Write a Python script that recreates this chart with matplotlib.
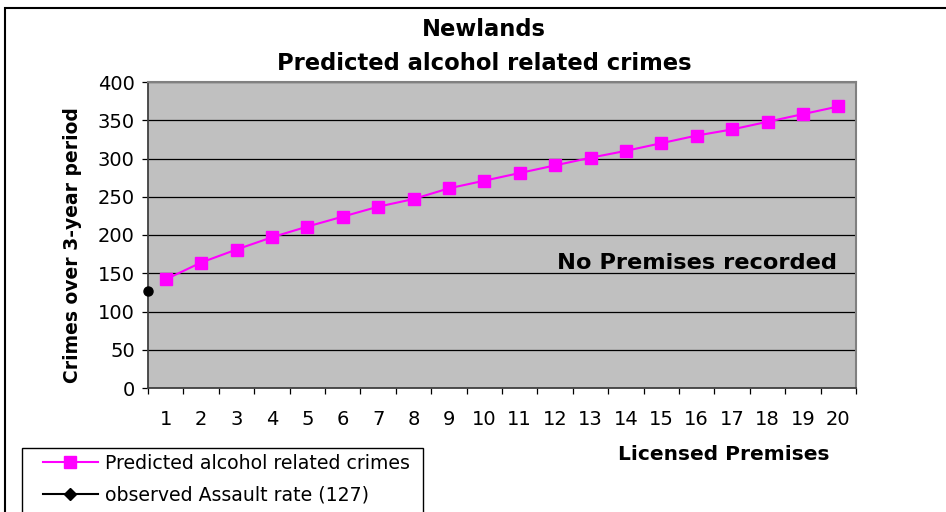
import matplotlib
matplotlib.use("Agg")
import matplotlib.pyplot as plt
from matplotlib.lines import Line2D
from matplotlib.patches import Rectangle
from matplotlib.ticker import FixedLocator, NullFormatter

plt.rcParams['font.family'] = ['DejaVu Sans']

premises = list(range(1, 21))
predicted = [142, 164, 181, 197, 211, 224, 237, 247, 261, 271,
             281, 291, 301, 310, 320, 330, 338, 348, 358, 368]
observed_label = "observed Assault rate (127)"
observed_value = 127
predicted_label = "Predicted alcohol related crimes"
title_lines = ["Newlands", "Predicted alcohol related crimes"]
xlabel = "Licensed Premises"
ylabel = "Crimes over 3-year period"
note = "No Premises recorded"
yticks = [0, 50, 100, 150, 200, 250, 300, 350, 400]

W, H = 946, 512
fig = plt.figure(figsize=(W / 100, H / 100), dpi=100)
fig.patch.set_facecolor('white')

def fx(px):
    return px / W

def fy(py):
    return 1 - py / H

ax = fig.add_axes([fx(148), fy(388), fx(856) - fx(148), fy(82) - fy(388)])
ax.set_facecolor('#c0c0c0')

ax.plot(premises, predicted, color='#ff00ff', lw=1.5, marker='s', ms=8.5,
        mec='#ff00ff', mfc='#ff00ff', zorder=3)
ax.plot([0.5], [observed_value], color='black', marker='o', ms=6.5, lw=0,
        clip_on=False, zorder=4)

ax.set_xlim(0.5, 20.5)
ax.set_ylim(0, 400)
ax.set_yticks(yticks)
ax.yaxis.grid(True, color='black', lw=0.9)
ax.set_axisbelow(True)

# x ticks: marks at category boundaries, labels at centres
ax.xaxis.set_major_locator(FixedLocator([i + 0.5 for i in range(0, 21)]))
ax.xaxis.set_major_formatter(NullFormatter())
ax.xaxis.set_minor_locator(FixedLocator(premises))
ax.set_xticklabels([str(p) for p in premises], minor=True)
ax.tick_params(axis='x', which='major', direction='out', length=4.5, width=0.9, color='black')
ax.tick_params(axis='x', which='minor', length=0, pad=16, labelsize=14)
ax.tick_params(axis='y', direction='out', length=4.5, width=0.9, pad=5, labelsize=14, color='black')

for s in ['top', 'right']:
    ax.spines[s].set_color('#808080')
    ax.spines[s].set_linewidth(1.5)
for s in ['left', 'bottom']:
    ax.spines[s].set_color('#404040')
    ax.spines[s].set_linewidth(1.3)

ax.text(16.0, 164, note, ha='center', va='center', fontsize=16.2, fontweight='bold')

fig.text(fx(484), fy(30), title_lines[0], ha='center', va='center', fontsize=16.3, fontweight='bold')
fig.text(fx(484), fy(63), title_lines[1], ha='center', va='center', fontsize=16.3, fontweight='bold')
fig.text(fx(724), fy(454), xlabel, ha='center', va='center', fontsize=14.5, fontweight='bold')
fig.text(fx(72), fy(245), ylabel, ha='center', va='center', fontsize=13.5, fontweight='bold', rotation=90)

# outer chart border
fig.patches.append(Rectangle((fx(5), fy(600)), fx(1100), fy(8) - fy(600), transform=fig.transFigure,
                             fill=False, edgecolor='black', lw=1.5, clip_on=False))
# legend box
fig.patches.append(Rectangle((fx(22), fy(600)), fx(423) - fx(22), fy(448) - fy(600),
                             transform=fig.transFigure, facecolor='white', edgecolor='black', lw=1.0))

handles = [Line2D([], [], color='#ff00ff', lw=1.5, marker='s', ms=8, mfc='#ff00ff', mec='#ff00ff'),
           Line2D([], [], color='black', lw=1.5, marker='D', ms=6, mfc='black', mec='black')]
leg = fig.legend(handles, [predicted_label, observed_label], loc='upper left',
                 bbox_to_anchor=(fx(38), fy(449)), frameon=False, fontsize=13.6,
                 handlelength=2.9, handletextpad=0.4, labelspacing=0.66, borderaxespad=0, borderpad=0.25)

fig.savefig('out.png', dpi=100)
